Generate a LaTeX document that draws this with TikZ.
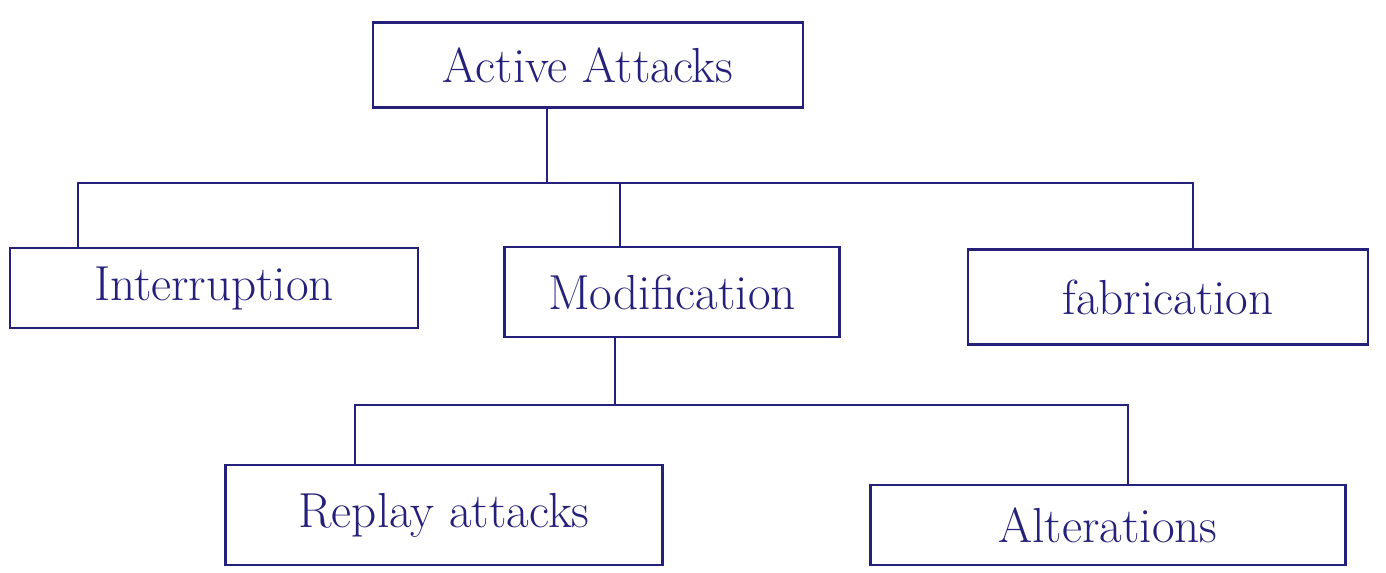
\documentclass[tikz,border=0pt]{standalone}
\usepackage{fontspec}
\setmainfont{Latin Modern Roman}
\definecolor{ink}{HTML}{25207A}
\begin{document}
\begin{tikzpicture}[x=0.02cm,y=-0.02cm,
  ink line/.style={draw=ink,line width=1.4pt},
  attackbox/.style={ink line,rectangle,text=ink,inner sep=0pt,
    font=\fontsize{28}{32}\selectfont},
  link/.style={ink line,line cap=round}]
\useasboundingbox[fill=white] (0,0) rectangle (1386,572);

% boxes
\node[attackbox,minimum width=430*0.02cm,minimum height=85*0.02cm] (root) at (588,65) {Active Attacks};
\node[attackbox,minimum width=408*0.02cm,minimum height=80*0.02cm] (intr) at (214,288) {Interruption};
\node[attackbox,minimum width=335*0.02cm,minimum height=90*0.02cm] (modi) at (672,292) {Modification};
\node[attackbox,minimum width=400*0.02cm,minimum height=95*0.02cm] (fabr) at (1168,297) {fabrication};
\node[attackbox,minimum width=437*0.02cm,minimum height=100*0.02cm] (repl) at (444,515) {Replay attacks};
\node[attackbox,minimum width=475*0.02cm,minimum height=80*0.02cm] (altr) at (1108,525) {Alterations};

% first level of the tree
\coordinate (j1) at (547,183);
\coordinate (b1) at (78,183);
\coordinate (b2) at (620,183);
\coordinate (b3) at (1193,183);
\draw[link] (root.south -| j1) -- (j1);
\draw[link] (b1) -- (b3);
\draw[link] (b1) -- (b1 |- intr.north);
\draw[link] (b2) -- (b2 |- modi.north);
\draw[link] (b3) -- (b3 |- fabr.north);

% second level under Modification
\coordinate (j2) at (615,405);
\coordinate (c1) at (355,405);
\coordinate (c2) at (1128,405);
\draw[link] (modi.south -| j2) -- (j2);
\draw[link] (c1) -- (c2);
\draw[link] (c1) -- (c1 |- repl.north);
\draw[link] (c2) -- (c2 |- altr.north);
\end{tikzpicture}
\end{document}
